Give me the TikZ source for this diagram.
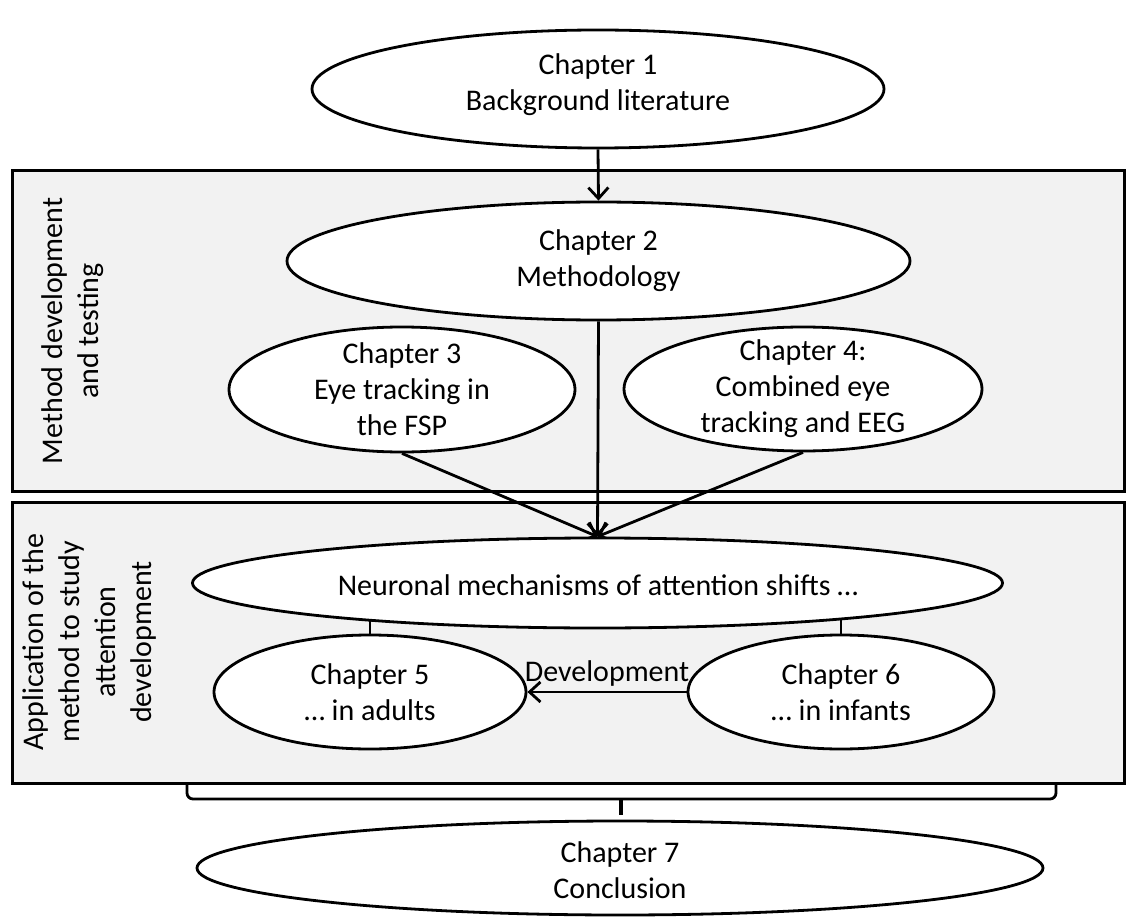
\documentclass[tikz,border=0pt]{standalone}
\usepackage{fontspec}
\setmainfont{Carlito}
\usetikzlibrary{shapes.geometric, arrows.meta}
\definecolor{panelgray}{HTML}{F2F2F2}
\pgfdeclarelayer{panels}
\pgfdeclarelayer{links}
\pgfsetlayers{panels,links,main}

\begin{document}
\begin{tikzpicture}[x=1pt, y=-1pt,
  every node/.style={font=\fontsize{30}{36}\selectfont, align=center},
  panel/.style 2 args={draw, line width=3pt, fill=panelgray,
    minimum width=#1, minimum height=#2, inner sep=0pt},
  oval/.style 2 args={draw, ellipse, line width=2.8pt, fill=white,
    minimum width=#1, minimum height=#2, inner sep=0pt},
  link/.style={line width=2.8pt},
  arr/.style={link, -{Straight Barb[length=11pt, width=20pt, line width=2.8pt]}},
  sidetext/.style={rotate=90, inner sep=0pt},
]
\useasboundingbox (0,0) rectangle (1127,917);

% white page and grey panels
\begin{pgfonlayer}{panels}
  \fill[white] (0,0) rectangle (1127,917);
  \node[panel={1112}{320}] (box1) at (568,331) {};
  \node[panel={1112}{281}] (box2) at (568,642.5) {};
\end{pgfonlayer}
\node[sidetext] (lab1) at (73,331) {Method development\\and testing};
\node[sidetext] (lab2) at (90,642) {Application of the\\method to study\\attention\\development};

% chapters
\node[oval={572}{118}] (ch1) at (598,89) {};
\node (t1) at (598,85) {Chapter 1\\Background literature};

\node[oval={623}{118}] (ch2) at (598.5,261) {};
\node (t2) at (598.5,261) {Chapter 2\\Methodology};

\node[oval={346}{125}] (ch3) at (402,389.5) {};
\node (t3) at (402,389) {Chapter 3\\Eye tracking in\\the FSP};

\node[oval={358}{124}] (ch4) at (803,389) {};
\node (t4) at (803,389) {Chapter 4:\\Combined eye\\tracking and EEG};

\node[oval={810}{90}] (neu) at (597.5,583) {};
\node (tn) at (598,585) {Neuronal mechanisms of attention shifts …};

\node[oval={312}{114}] (ch5) at (370,692) {};
\node (t5) at (370,692) {Chapter 5\\… in adults};

\node[oval={306}{114}] (ch6) at (841,692) {};
\node (t6) at (841,692) {Chapter 6\\… in infants};

\node[oval={846}{94}] (ch7) at (620,868) {};
\node (t7) at (620,870) {Chapter 7\\Conclusion};

% connectors
\begin{pgfonlayer}{links}
  \draw[arr] (ch1.south) -- (ch2.north);
  \draw[arr] (ch2.south) -- (neu.north);
  \draw[arr] (ch3.south) -- (neu.north);
  \draw[arr] (ch4.south) -- (neu.north);
  \draw[link] (ch5.north) -- (ch5.north |- neu.center);
  \draw[link] (ch6.north) -- (ch6.north |- neu.center);
  \draw[arr] (ch6.west) -- (ch5.east)
    node[midway, above=4pt, inner sep=0pt] (dev) {Development};
\end{pgfonlayer}

% bracket gathering the second panel into the conclusion
\coordinate (brL) at (187,783);
\coordinate (brR) at (1056,783);
\coordinate (brM) at (621,799);
\draw[link, rounded corners=6pt] (brL) -- (brL |- brM) -- (brR |- brM) -- (brR);
\draw[line width=3.2pt] (brM) -- (621,815);
\end{tikzpicture}
\end{document}
